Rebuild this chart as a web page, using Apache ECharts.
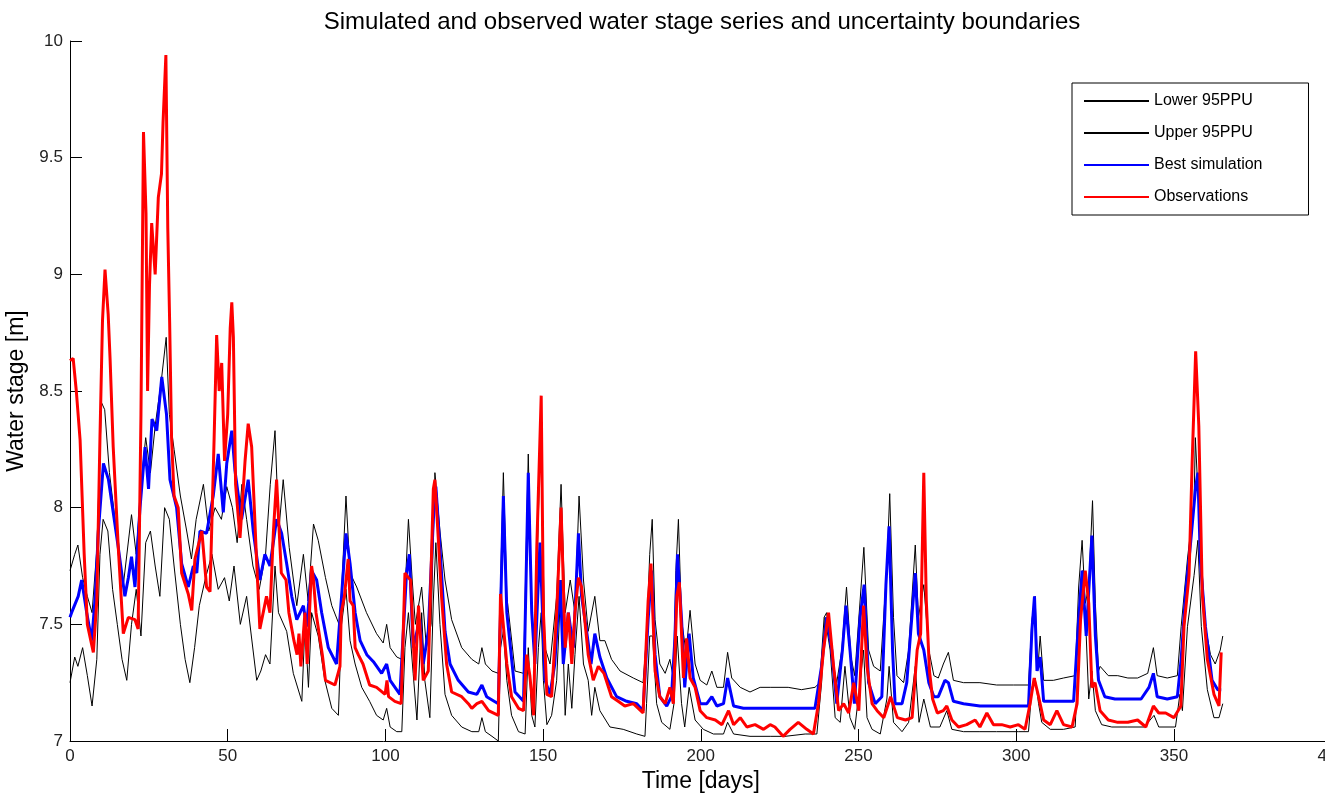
<!DOCTYPE html>
<html>
<head>
<meta charset="utf-8">
<script src="https://cdn.jsdelivr.net/npm/echarts@6/dist/echarts.min.js"></script>
<style>html,body{margin:0;padding:0;background:#fff}#c{width:1325px;height:797px}</style>
</head>
<body>
<div id="c"></div>
<script>
const titleText = 'Simulated and observed water stage series and uncertainty boundaries';
const xName = 'Time [days]';
const yName = 'Water stage [m]';
const seriesNames = ['Lower 95PPU', 'Upper 95PPU', 'Best simulation', 'Observations'];

const lowerData = [[0,7.25],[1.5,7.36],[2.5,7.32],[4,7.4],[5.5,7.28],[7,7.15],[8.5,7.35],[9.5,7.8],[10.5,7.95],[12,7.9],[13.5,7.65],[15,7.5],[16.5,7.35],[18,7.26],[19.5,7.5],[21,7.65],[22.5,7.45],[24,7.85],[25.5,7.9],[27,7.75],[28.5,7.62],[30,8.0],[31.5,7.95],[33,7.75],[35,7.5],[36.5,7.35],[38,7.25],[39.5,7.4],[41,7.58],[43,7.7],[45,7.8],[47,7.65],[49,7.7],[50.5,7.6],[52,7.75],[54,7.5],[56,7.62],[57.5,7.45],[59.2,7.26],[60.5,7.3],[62,7.37],[63.4,7.33],[65,7.75],[66.1,7.55],[68.7,7.47],[70.8,7.29],[73.5,7.17],[74.5,7.5],[75.6,7.23],[76.6,7.55],[78.7,7.45],[80.8,7.26],[83,7.14],[85.1,7.11],[86.1,7.5],[87.5,7.65],[88.8,7.43],[90.4,7.33],[92.5,7.23],[95,7.17],[97.2,7.11],[99.3,7.09],[100.4,7.14],[101.5,7.06],[103.6,7.04],[105.2,7.04],[106.2,7.4],[107.3,7.55],[108.8,7.29],[110,7.09],[111.5,7.55],[112.5,7.26],[114.1,7.1],[115.2,7.6],[116,7.85],[117.3,7.5],[118.9,7.2],[121,7.11],[124.2,7.06],[127.4,7.04],[129.6,7.04],[130.6,7.1],[131.7,7.04],[133.8,7.02],[135.8,7.0],[136.5,7.4],[137.4,7.47],[138.5,7.26],[140,7.11],[142.2,7.04],[144.3,7.03],[145.3,7.4],[146.4,7.11],[147.4,7.06],[148.5,7.4],[149.4,7.55],[150.1,7.26],[151.2,7.07],[152.7,7.11],[154.3,7.26],[155.7,7.69],[157,7.11],[158,7.33],[159.1,7.14],[160.1,7.37],[161.4,7.62],[162.8,7.33],[164.3,7.26],[165.4,7.11],[166.4,7.23],[168,7.13],[171.2,7.06],[175.4,7.05],[179.7,7.03],[182.3,7.02],[182.8,7.16],[183.8,7.45],[184.7,7.45],[186,7.16],[187.6,7.08],[190.2,7.05],[191.5,7.16],[192.5,7.45],[193.9,7.16],[194.9,7.06],[196.3,7.23],[198.2,7.09],[200.8,7.05],[204,7.03],[207.2,7.03],[208.5,7.08],[210.4,7.03],[215.6,7.02],[222,7.02],[226.7,7.02],[233.1,7.03],[236.8,7.03],[238.3,7.25],[239.4,7.53],[241,7.39],[242.6,7.1],[244.2,7.08],[245.7,7.32],[247.3,7.1],[248.8,7.05],[250.5,7.25],[251.6,7.39],[252.7,7.1],[254.3,7.05],[256.9,7.03],[259,7.18],[259.7,7.32],[261.1,7.08],[263.8,7.04],[265.9,7.08],[268,7.32],[269.2,7.08],[270.7,7.18],[272.8,7.06],[275.8,7.06],[278,7.13],[279.6,7.05],[283.3,7.04],[288.5,7.04],[293.8,7.04],[300.7,7.04],[303.9,7.04],[305,7.23],[306,7.27],[307.1,7.16],[308.1,7.08],[310.8,7.05],[315,7.05],[318.7,7.06],[319.8,7.38],[321.1,7.73],[322.2,7.45],[323,7.18],[324,7.3],[325.1,7.13],[327.1,7.07],[330.3,7.06],[335.4,7.06],[340.6,7.06],[343.7,7.11],[345.2,7.06],[350.5,7.06],[351.9,7.2],[352.7,7.13],[354.3,7.49],[356.4,7.71],[357.6,7.86],[358.7,7.49],[360.6,7.22],[362.7,7.1],[364.3,7.1],[365.5,7.16]];

const upperData = [[0,7.73],[1.5,7.8],[2.5,7.84],[4,7.7],[5.5,7.62],[7,7.55],[8.5,7.82],[10,8.45],[11,8.42],[12.5,8.15],[14,7.98],[15.5,7.8],[17,7.68],[19.5,7.97],[21,7.8],[22.5,8.1],[24,8.3],[25.5,8.15],[27,8.35],[29,8.55],[30.5,8.73],[31.5,8.4],[33,8.25],[35,8.05],[37,7.9],[38.5,7.78],[40,7.95],[42.3,8.1],[44,7.9],[46,8.0],[48,7.95],[49.7,8.09],[51.5,8.0],[53,7.85],[54.5,8.1],[56,7.95],[58,7.75],[60,7.65],[62,7.8],[63.5,8.1],[65,8.33],[66.2,7.9],[67.6,8.12],[69.5,7.83],[71.9,7.58],[74,7.8],[75.5,7.6],[77.2,7.93],[78.7,7.86],[81,7.7],[83,7.58],[85.6,7.49],[87.5,8.05],[88.8,7.72],[90.9,7.66],[94,7.55],[97.2,7.46],[99.3,7.42],[100.4,7.5],[101.5,7.4],[103.6,7.36],[105.2,7.35],[107.3,7.95],[108.5,7.69],[109.5,7.5],[111.5,7.66],[113,7.4],[114.5,7.5],[115.7,8.15],[117.3,7.9],[118.9,7.69],[121,7.52],[124.2,7.4],[127.4,7.35],[129.6,7.33],[130.6,7.4],[131.7,7.33],[133.8,7.3],[135.8,7.29],[137.4,8.15],[138.5,7.62],[141.1,7.3],[143.8,7.29],[145.3,8.23],[146.4,7.55],[147.4,7.4],[149.2,8.32],[150.6,7.4],[152.2,7.33],[154.3,7.62],[155.7,8.1],[157,7.55],[158.6,7.69],[160.1,7.55],[161.4,8.05],[162.8,7.69],[164.3,7.47],[166.4,7.62],[168,7.43],[169.6,7.43],[171.7,7.35],[174.4,7.3],[178.6,7.27],[181.7,7.25],[182.8,7.45],[183.8,7.8],[184.6,7.95],[185.5,7.52],[187,7.33],[188.7,7.29],[190.2,7.35],[191.3,7.27],[192.1,7.73],[192.9,7.95],[193.9,7.52],[195.3,7.38],[196.6,7.56],[198.2,7.33],[199.8,7.26],[201.9,7.24],[203.5,7.3],[205.1,7.23],[207.2,7.23],[208.5,7.38],[209.8,7.27],[212.5,7.23],[215.6,7.21],[218.8,7.23],[222,7.23],[227.7,7.23],[231.9,7.22],[236.2,7.23],[237.7,7.25],[239.1,7.53],[239.9,7.55],[241.5,7.36],[243.1,7.25],[244.7,7.39],[246.2,7.66],[247.6,7.36],[248.8,7.28],[250.5,7.6],[251.7,7.83],[253.2,7.39],[254.8,7.32],[256.9,7.3],[259,7.75],[259.9,8.06],[261.1,7.53],[262.2,7.28],[264.3,7.25],[265.9,7.39],[268,7.84],[269,7.53],[270.7,7.67],[272.3,7.39],[273.9,7.28],[275.3,7.27],[276.9,7.33],[278.5,7.38],[280.1,7.26],[283.3,7.25],[288.5,7.25],[293.8,7.24],[299.1,7.24],[303.9,7.24],[305,7.52],[306,7.62],[306.8,7.3],[307.6,7.45],[308.7,7.26],[311.8,7.26],[315,7.27],[318.7,7.28],[319.8,7.66],[320.9,7.86],[321.9,7.59],[323,7.66],[324.2,8.03],[325.1,7.59],[326.1,7.3],[326.6,7.32],[329.2,7.28],[332.2,7.28],[335.4,7.27],[338.5,7.27],[341.7,7.29],[343.5,7.4],[344.7,7.28],[347.9,7.27],[351.1,7.28],[352.3,7.49],[354.3,7.78],[356.4,8.03],[356.8,8.3],[358.4,7.85],[360,7.49],[361.6,7.37],[363.1,7.33],[364.7,7.39],[365.5,7.45]];

const bestData = [[0,7.53],[0.5,7.55],[2.6,7.62],[3.7,7.69],[5.3,7.55],[6.9,7.43],[8,7.62],[9,7.9],[10.6,8.19],[12.2,8.12],[13.7,7.98],[15.3,7.83],[17.4,7.62],[18.5,7.7],[19.5,7.79],[20.6,7.66],[22.2,8.0],[23.8,8.26],[24.9,8.08],[26,8.38],[27.5,8.33],[29.1,8.56],[30.6,8.4],[31.7,8.12],[33.8,8.0],[35.4,7.76],[37.5,7.66],[39.1,7.75],[40.2,7.72],[41.2,7.9],[43.3,7.89],[45.4,8.05],[47,8.23],[48.6,7.98],[49.7,8.19],[51.3,8.33],[52.3,8.16],[54.4,7.95],[56.5,8.12],[58.1,7.9],[60.2,7.69],[61.8,7.8],[63.4,7.75],[65.5,7.95],[67.1,7.89],[68.7,7.76],[70.3,7.62],[71.9,7.52],[74,7.58],[75,7.49],[76.6,7.73],[78.2,7.69],[79.8,7.55],[81.9,7.4],[84.5,7.33],[86.1,7.62],[87.5,7.89],[88.8,7.76],[90.4,7.55],[92,7.43],[94.1,7.37],[96.2,7.34],[98.8,7.29],[100.4,7.33],[101.5,7.26],[104.6,7.2],[106.7,7.72],[107.6,7.8],[108.8,7.4],[110.9,7.52],[112,7.33],[113.6,7.47],[115.2,7.95],[116,8.09],[117.3,7.83],[118.9,7.47],[120.5,7.33],[123.1,7.26],[126.3,7.21],[129,7.2],[130.6,7.24],[132.1,7.19],[135.8,7.16],[137.4,8.05],[138.5,7.55],[141.1,7.21],[143.8,7.17],[145.3,8.15],[146.4,7.55],[147.4,7.33],[149,7.85],[150.6,7.26],[152.2,7.2],[153.7,7.33],[155.4,7.69],[156.4,7.33],[158,7.55],[159.6,7.4],[161.2,7.89],[162.2,7.62],[163.8,7.47],[165.2,7.33],[166.4,7.46],[168,7.36],[170.2,7.27],[173.3,7.19],[176.5,7.17],[179.7,7.16],[181.7,7.13],[183.3,7.52],[184.4,7.73],[185.5,7.37],[187,7.19],[189.2,7.15],[190.7,7.19],[191.8,7.44],[192.6,7.8],[193.9,7.52],[194.9,7.23],[196.3,7.46],[197.6,7.27],[199.8,7.16],[201.9,7.16],[203.5,7.19],[205.1,7.15],[207.2,7.16],[208.5,7.27],[210.4,7.15],[213.5,7.14],[217.7,7.14],[222,7.14],[225.6,7.14],[230.9,7.14],[236.2,7.14],[238.3,7.32],[239.9,7.53],[241.5,7.39],[243.1,7.16],[244.9,7.39],[246,7.58],[247.3,7.39],[248.7,7.16],[250.5,7.53],[251.8,7.67],[253.2,7.25],[255.3,7.16],[257.4,7.19],[258.7,7.67],[259.7,7.92],[260.8,7.39],[261.6,7.16],[263.8,7.16],[265.3,7.25],[266.9,7.53],[268,7.72],[269,7.46],[270.7,7.39],[272.3,7.25],[273.9,7.19],[275.3,7.19],[277.4,7.26],[278.5,7.25],[280.1,7.17],[283.3,7.16],[288.5,7.15],[293.8,7.15],[299.1,7.15],[303.9,7.15],[305,7.48],[305.8,7.62],[306.6,7.3],[307.6,7.36],[308.7,7.17],[311.8,7.17],[315,7.17],[318.2,7.17],[319.8,7.52],[320.9,7.73],[322.2,7.45],[324,7.88],[325.1,7.45],[326.1,7.26],[328.1,7.19],[331.3,7.18],[335.4,7.18],[339.6,7.18],[342.1,7.23],[343.5,7.29],[344.7,7.19],[347.9,7.18],[351.1,7.19],[352.3,7.35],[353.7,7.63],[355.3,7.85],[356.9,8.09],[357.6,8.15],[358.4,7.77],[360,7.49],[362.1,7.26],[363.9,7.22],[365,7.22]];

const obsData = [[0,8.63],[1,8.64],[2,8.5],[3.2,8.29],[4.5,7.8],[5.5,7.5],[7.4,7.38],[8.5,7.6],[9.5,8.3],[10.3,8.8],[11.1,9.02],[12.1,8.83],[12.7,8.64],[13.7,8.26],[15.3,7.83],[16.9,7.46],[18.5,7.53],[20.6,7.52],[21.6,7.48],[22.5,8.4],[23.3,9.61],[24.1,9.26],[24.6,8.5],[25.2,8.95],[25.9,9.22],[27,9.0],[28,9.33],[29,9.43],[29.5,9.65],[30.4,9.94],[31,9.2],[31.6,8.79],[32.2,8.3],[33,8.05],[34.3,8.0],[35.4,7.72],[37.5,7.63],[38.6,7.56],[39.6,7.78],[41.8,7.9],[43.3,7.66],[44.4,7.64],[45.7,8.3],[46.5,8.74],[47.3,8.5],[48.1,8.62],[49,8.2],[50,8.4],[50.8,8.77],[51.3,8.88],[51.8,8.73],[52.5,8.1],[53.9,7.87],[55.5,8.2],[56.5,8.36],[57.6,8.26],[59.2,7.76],[60.2,7.48],[62.3,7.62],[63.4,7.55],[64.5,7.9],[65.5,8.12],[67,7.72],[68.5,7.69],[69.4,7.55],[71,7.43],[72,7.37],[72.6,7.46],[73.2,7.32],[74.5,7.55],[75.2,7.33],[76.6,7.75],[77.2,7.69],[78,7.55],[80,7.37],[81,7.26],[84,7.24],[85.6,7.32],[86,7.55],[87,7.62],[88.2,7.78],[88.8,7.6],[89.8,7.58],[90.4,7.4],[91.4,7.37],[92.9,7.33],[95,7.24],[97.2,7.23],[99.9,7.2],[100.5,7.26],[101,7.19],[103,7.17],[105,7.16],[106.2,7.72],[107.3,7.7],[108,7.69],[109.4,7.26],[110.5,7.58],[112,7.26],[113.6,7.3],[115.2,8.08],[115.7,8.12],[116.8,7.86],[117.8,7.62],[119.4,7.33],[121,7.21],[124.2,7.19],[126.3,7.16],[127.4,7.14],[129,7.16],[130.6,7.17],[132.7,7.13],[135.8,7.11],[136.5,7.63],[138.5,7.33],[140,7.19],[142.2,7.14],[143.8,7.13],[144.8,7.37],[145.8,7.28],[147,7.11],[148,7.83],[149.4,8.48],[150.1,7.55],[151.2,7.2],[152.7,7.19],[154.3,7.55],[155.7,8.0],[157,7.4],[158,7.55],[159.1,7.33],[160.1,7.55],[161.2,7.7],[162.2,7.66],[163.2,7.52],[164.3,7.37],[165.9,7.26],[167.5,7.32],[169.3,7.29],[171.7,7.19],[173.8,7.17],[175.9,7.15],[178.6,7.16],[181.7,7.12],[183.3,7.6],[184.2,7.76],[185.5,7.3],[187,7.19],[188.7,7.16],[190.2,7.23],[191.3,7.16],[192.4,7.62],[193.2,7.68],[194.5,7.27],[195.5,7.44],[196.6,7.27],[198.2,7.23],[199.8,7.13],[201.9,7.1],[204.6,7.09],[206.7,7.07],[208.8,7.13],[210.4,7.07],[212.5,7.1],[214.6,7.06],[217.2,7.07],[219.9,7.05],[222,7.07],[223.5,7.06],[226.1,7.02],[228.3,7.05],[230.9,7.08],[233.6,7.05],[235.7,7.03],[237.3,7.16],[238.9,7.39],[240.5,7.55],[242.1,7.32],[243.7,7.13],[245.3,7.16],[246.9,7.12],[248.5,7.25],[250.1,7.13],[251.6,7.58],[252.7,7.32],[254.3,7.16],[255.9,7.13],[258,7.1],[260.2,7.19],[262.3,7.1],[264.9,7.09],[267,7.1],[268.6,7.39],[269.7,7.46],[270.7,8.15],[271.5,7.6],[272.5,7.3],[273.5,7.18],[275,7.12],[276.9,7.13],[278,7.15],[279.6,7.09],[281.7,7.06],[284.3,7.07],[287,7.09],[288.5,7.06],[290.7,7.12],[292.8,7.07],[295.4,7.07],[298.1,7.06],[300.7,7.07],[302.8,7.05],[304.4,7.16],[305.7,7.27],[307.1,7.19],[308.7,7.09],[310.8,7.07],[312.9,7.13],[315,7.07],[317.7,7.06],[319.3,7.16],[320.4,7.52],[321.9,7.73],[323,7.59],[324,7.23],[325,7.25],[326.6,7.13],[329.2,7.09],[332.2,7.08],[335.4,7.08],[338.5,7.09],[341.1,7.06],[343.5,7.15],[345.2,7.12],[347.4,7.12],[350,7.1],[352.2,7.15],[353.2,7.49],[354.8,7.71],[355.8,8.2],[356.9,8.67],[357.9,8.35],[359,7.63],[360.6,7.35],[362.7,7.2],[364.3,7.15],[365,7.38]];

const FONT = "'Liberation Sans', Arial, Helvetica, sans-serif";
const chart = echarts.init(document.getElementById('c'), null, {renderer: 'canvas'});
function lineSeries(name, data, color, width) {
  return {name: name, type: 'line', data: data, showSymbol: false, symbol: 'none',
    lineStyle: {color: color, width: width}, itemStyle: {color: color}, animation: false};
}
chart.setOption({
  animation: false,
  backgroundColor: '#ffffff',
  title: {text: titleText, left: 697, top: 5, textAlign: 'center',
    textStyle: {fontFamily: FONT, fontSize: 24, fontWeight: 'normal', color: '#000'}},
  legend: {orient: 'vertical', left: 1072, top: 83, padding: [10, 46, 10, 11],
    itemWidth: 65, itemHeight: 14, itemGap: 16, backgroundColor: '#fff',
    borderColor: '#000', borderWidth: 1, borderRadius: 0,
    itemStyle: {opacity: 0},
    textStyle: {fontFamily: FONT, fontSize: 16, color: '#000'},
    data: seriesNames},
  grid: {left: 70, top: 41, width: 1261.6, height: 700, containLabel: false, outerBoundsMode: 'none'},
  xAxis: {type: 'value', min: 0, max: 400, interval: 50,
    name: xName, nameLocation: 'middle', nameGap: 25,
    nameTextStyle: {fontFamily: FONT, fontSize: 23, color: '#000'},
    axisLine: {show: true, lineStyle: {color: '#000', width: 1}},
    axisTick: {show: true, inside: true, length: 12, lineStyle: {color: '#000'}},
    axisLabel: {fontFamily: FONT, fontSize: 17, color: '#222', margin: 7},
    splitLine: {show: false}},
  yAxis: {type: 'value', min: 7, max: 10, interval: 0.5,
    name: yName, nameLocation: 'middle', nameGap: 31,
    nameTextStyle: {fontFamily: FONT, fontSize: 23, color: '#000'},
    axisLine: {show: true, lineStyle: {color: '#000', width: 1}},
    axisTick: {show: true, inside: true, length: 12, lineStyle: {color: '#000'}},
    axisLabel: {fontFamily: FONT, fontSize: 17, color: '#222', margin: 7},
    splitLine: {show: false}},
  series: [
    lineSeries(seriesNames[0], lowerData, '#000000', 1),
    lineSeries(seriesNames[1], upperData, '#000000', 1),
    lineSeries(seriesNames[2], bestData, '#0000ff', 3),
    lineSeries(seriesNames[3], obsData, '#ff0000', 3)
  ]
});
</script>
</body>
</html>
